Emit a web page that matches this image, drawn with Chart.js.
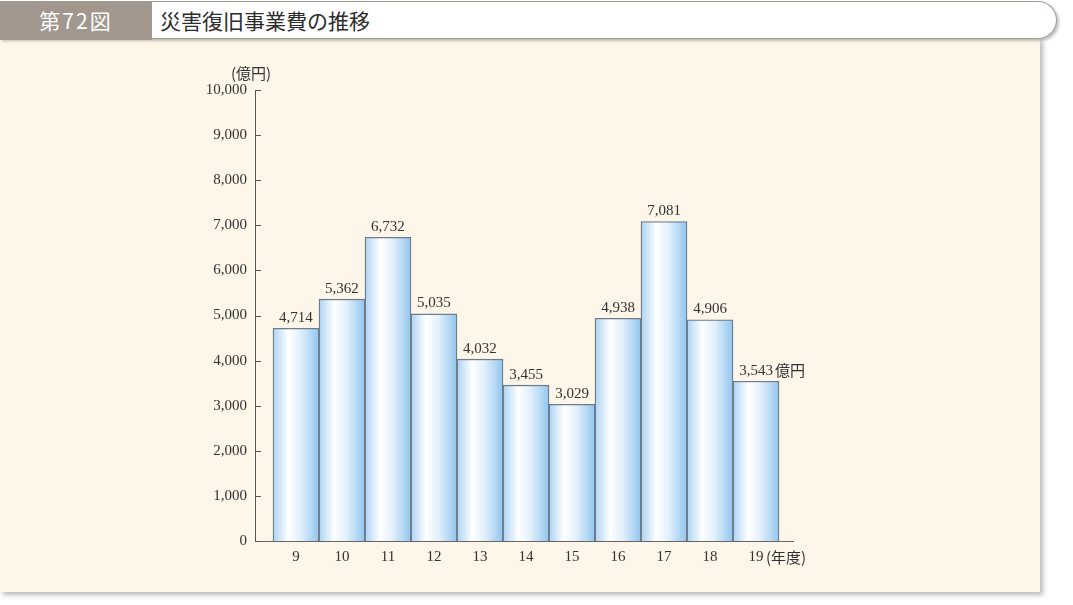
<!DOCTYPE html>
<html>
<head>
<meta charset="utf-8">
<script src="https://cdn.jsdelivr.net/npm/chart.js@4.4.1/dist/chart.umd.min.js"></script>
<style>
  html, body { margin:0; padding:0; width:1073px; height:605px; background:#ffffff; overflow:hidden; }
  #panel { position:absolute; left:0; top:38px; width:1040px; height:554px; background:#fdf6e9;
           box-shadow: 3px 3px 5px rgba(0,0,0,0.28); }
  #hdr { position:absolute; left:0; top:1px; width:1056px; height:36px; background:#ffffff;
         border:1.5px solid #a39a92; border-left:none; border-radius:0 19px 19px 0;
         box-shadow: 2px 2px 3px rgba(0,0,0,0.25); }
  #tag { position:absolute; left:0; top:1px; width:152px; height:39px; background:#a1978f;
         color:#ffffff; font-family:"Noto Sans CJK JP","Noto Sans",sans-serif; font-size:21px;
         line-height:38px; text-align:center; letter-spacing:2px; }
  #title { position:absolute; left:160px; top:1px; height:38px; line-height:38px;
           font-family:"Noto Sans CJK JP",sans-serif; font-size:21px; color:#2b2b2b; }
  #wrap { position:absolute; left:0; top:0; width:1073px; height:605px; }
</style>
</head>
<body>
<div id="panel"></div>
<div id="hdr"></div>
<div id="tag">第72図</div>
<div id="title">災害復旧事業費の推移</div>
<div id="wrap"><canvas id="c" width="1073" height="605"></canvas></div>
<script>
const categories = ['9','10','11','12','13','14','15','16','17','18','19'];
const values = [4714, 5362, 6732, 5035, 4032, 3455, 3029, 4938, 7081, 4906, 3543];
const yTicks = [0,1000,2000,3000,4000,5000,6000,7000,8000,9000,10000];
const unitLabel = '(億円)';
const yearLabel = '(年度)';
const lastSuffix = '億円';

const SERIF = '"Liberation Serif","DejaVu Serif",serif';
const CJK = '"Noto Sans CJK JP",sans-serif';

function barGradient(ctx) {
  const chart = ctx.chart;
  const xs = chart.scales.x;
  if (!xs || ctx.dataIndex === undefined) return '#cfe6f8';
  const l = xs.getPixelForValue(ctx.dataIndex - 0.5);
  const r = xs.getPixelForValue(ctx.dataIndex + 0.5);
  if (!isFinite(l) || !isFinite(r)) return '#cfe6f8';
  const g = chart.ctx.createLinearGradient(l, 0, r, 0);
  g.addColorStop(0, '#acd3f3');
  g.addColorStop(0.33, '#ffffff');
  g.addColorStop(0.6, '#e2f0fb');
  g.addColorStop(1, '#92c5ee');
  return g;
}

const decor = {
  id: 'decor',
  afterDraw(chart) {
    const c = chart.ctx;
    const ys = chart.scales.y, xs = chart.scales.x;
    const ax = chart.chartArea.left;
    c.save();
    c.strokeStyle = '#555';
    c.lineWidth = 1;
    yTicks.forEach(v => {
      const py = Math.round(ys.getPixelForValue(v)) + 0.5;
      c.beginPath(); c.moveTo(ax, py); c.lineTo(ax + 6, py); c.stroke();
    });
    const meta = chart.getDatasetMeta(0);
    c.fillStyle = '#333';
    c.textBaseline = 'bottom';
    meta.data.forEach((bar, i) => {
      const txt = values[i].toLocaleString('en-US');
      c.font = '15px ' + SERIF;
      c.textAlign = 'center';
      c.fillText(txt, bar.x, bar.y - 3);
      if (i === values.length - 1) {
        const w = c.measureText(txt).width;
        c.font = '15px ' + CJK;
        c.textAlign = 'left';
        c.fillText(lastSuffix, bar.x + w / 2 + 2, bar.y - 3);
      }
    });
    c.font = '15px ' + CJK;
    c.textAlign = 'left';
    c.textBaseline = 'middle';
    c.fillText(unitLabel, 231, 73);
    const lastX = xs.getPixelForValue(categories.length - 1);
    c.fillText(yearLabel, lastX + 10, 557);
    c.restore();
  }
};

new Chart(document.getElementById('c'), {
  type: 'bar',
  data: {
    datasets: [{
      data: values.map((v, i) => ({ x: i, y: v })),
      backgroundColor: barGradient,
      borderColor: '#6c7c8a',
      borderWidth: 1.3,
      borderSkipped: 'bottom',
      barPercentage: 1,
      categoryPercentage: 1
    }]
  },
  options: {
    responsive: false,
    animation: false,
    events: [],
    layout: { padding: { left: 0, right: 280, top: 90, bottom: 0 } },
    plugins: { legend: { display: false }, tooltip: { enabled: false } },
    scales: {
      x: {
        type: 'linear',
        offset: false,
        min: -0.891,
        max: 10.804,
        afterFit: s => { s.height = 64; },
        grid: { display: false, drawTicks: false, offset: false },
        border: { display: true, color: '#666', width: 1 },
        ticks: {
          stepSize: 1,
          includeBounds: false,
          autoSkip: false,
          maxRotation: 0,
          padding: 7,
          color: '#333',
          font: { family: SERIF, size: 15 },
          callback: v => (Number.isInteger(v) && categories[v] !== undefined) ? categories[v] : ''
        }
      },
      y: {
        min: 0,
        max: 10000,
        afterFit: s => { s.width = 255; },
        grid: { display: false, drawTicks: false },
        border: { display: true, color: '#555', width: 1 },
        ticks: {
          stepSize: 1000,
          padding: 8,
          color: '#333',
          font: { family: SERIF, size: 15 },
          callback: v => v.toLocaleString('en-US')
        }
      }
    }
  },
  plugins: [decor]
});
</script>
</body>
</html>
